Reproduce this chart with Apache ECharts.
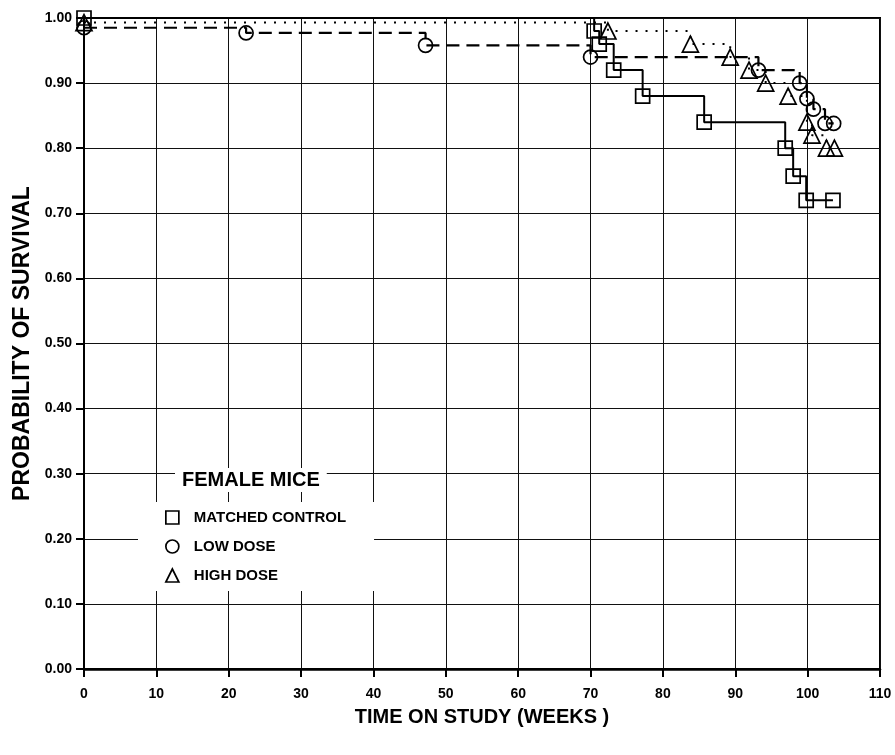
<!DOCTYPE html>
<html>
<head>
<meta charset="utf-8">
<script src="https://cdn.jsdelivr.net/npm/echarts@6/dist/echarts.min.js"></script>
<style>
  html, body { margin: 0; padding: 0; background: #fff; }
  #chart { width: 895px; height: 755px; }
</style>
</head>
<body>
<div id="chart"></div>
<script>
// ---- Data ----
const xTicks = [0, 10, 20, 30, 40, 50, 60, 70, 80, 90, 100, 110];
const yTicks = [0.0, 0.1, 0.2, 0.3, 0.4, 0.5, 0.6, 0.7, 0.8, 0.9, 1.0];

const controlWeeks = [0, 70.5, 71.2, 73.2, 77.2, 85.7, 96.9, 98.0, 99.8, 103.5];
const controlSurv  = [1.00, 0.98, 0.96, 0.92, 0.88, 0.84, 0.80, 0.757, 0.72, 0.72];

const lowWeeks = [0, 22.4, 47.2, 70.0, 93.2, 98.9, 99.9, 100.8, 102.4, 103.6];
const lowSurv  = [0.985, 0.977, 0.958, 0.94, 0.92, 0.90, 0.876, 0.86, 0.838, 0.838];

const highWeeks = [0, 72.4, 83.8, 89.3, 91.9, 94.2, 97.3, 99.9, 100.6, 102.6, 103.7];
const highSurv  = [0.993, 0.98, 0.96, 0.94, 0.92, 0.90, 0.88, 0.84, 0.82, 0.80, 0.80];

const seriesNames = ['MATCHED CONTROL', 'LOW DOSE', 'HIGH DOSE'];
const legendTitle = 'FEMALE MICE';
const xTitle = 'TIME ON STUDY (WEEKS )';
const yTitle = 'PROBABILITY OF SURVIVAL';

const zip = (xs, ys) => xs.map((x, i) => [x, ys[i]]);
const FONT = "'Liberation Sans', Arial, sans-serif";

const markerStyle = { color: 'rgba(0,0,0,0)', borderColor: '#000', borderWidth: 1.7 };

function kmSeries(name, data, symbol, lineType, lineWidth) {
  return {
    name: name,
    type: 'line',
    step: 'end',
    data: data,
    symbol: symbol,
    symbolSize: symbol === 'triangle' ? 16 : 14,
    showAllSymbol: true,
    itemStyle: markerStyle,
    lineStyle: { color: '#000', width: lineWidth, type: lineType },
    emphasis: { disabled: true },
    animation: false
  };
}

const chart = echarts.init(document.getElementById('chart'), null, { renderer: 'canvas' });
chart.setOption({
  backgroundColor: '#fff',
  animation: false,
  grid: {
    left: 84, right: 15, top: 18, bottom: 86,
    show: true, borderColor: '#000', borderWidth: 2, backgroundColor: 'transparent'
  },
  title: {
    text: legendTitle,
    left: 175, top: 468,
    padding: [2, 7, 2, 7],
    backgroundColor: '#fff',
    textStyle: { fontFamily: FONT, fontWeight: 'bold', fontSize: 20, color: '#000' }
  },
  legend: {
    orient: 'vertical',
    left: 138, top: 502,
    padding: [8, 28, 8, 27],
    backgroundColor: '#fff',
    itemWidth: 13, itemHeight: 13,
    itemGap: 14,
    selectedMode: false,
    itemStyle: { color: 'rgba(0,0,0,0)', borderColor: '#000', borderWidth: 1.7 },
    data: [
      { name: seriesNames[0], icon: 'rect' },
      { name: seriesNames[1], icon: 'circle' },
      { name: seriesNames[2], icon: 'triangle' }
    ],
    textStyle: { fontFamily: FONT, fontWeight: 'bold', fontSize: 15, color: '#000', padding: [0, 0, 0, 10] }
  },
  xAxis: {
    type: 'value',
    min: xTicks[0], max: xTicks[xTicks.length - 1], interval: 10,
    name: xTitle,
    nameLocation: 'middle',
    nameGap: 38,
    nameTextStyle: { fontFamily: FONT, fontWeight: 'bold', fontSize: 20, color: '#000' },
    axisLine: { show: true, lineStyle: { color: '#000', width: 2.5 } },
    axisTick: { show: true, inside: false, length: 8, lineStyle: { color: '#000', width: 2 } },
    axisLabel: { margin: 18, fontFamily: FONT, fontWeight: 'bold', fontSize: 14, color: '#000' },
    splitLine: { show: true, lineStyle: { color: '#111', width: 1 } }
  },
  yAxis: {
    type: 'value',
    min: yTicks[0], max: yTicks[yTicks.length - 1], interval: 0.1,
    name: yTitle,
    nameLocation: 'middle',
    nameGap: 50,
    nameTextStyle: { fontFamily: FONT, fontWeight: 'bold', fontSize: 23, color: '#000' },
    axisLine: { show: true, lineStyle: { color: '#000', width: 2 } },
    axisTick: { show: true, inside: false, length: 8, lineStyle: { color: '#000', width: 2 } },
    axisLabel: {
      margin: 12, fontFamily: FONT, fontWeight: 'bold', fontSize: 14, color: '#000',
      formatter: v => v.toFixed(2)
    },
    splitLine: { show: true, lineStyle: { color: '#111', width: 1 } }
  },
  series: [
    kmSeries(seriesNames[0], zip(controlWeeks, controlSurv), 'rect', 'solid', 2),
    kmSeries(seriesNames[1], zip(lowWeeks, lowSurv), 'circle', [13, 7], 2.2),
    kmSeries(seriesNames[2], zip(highWeeks, highSurv), 'triangle', [2, 8], 2)
  ]
});
</script>
</body>
</html>
